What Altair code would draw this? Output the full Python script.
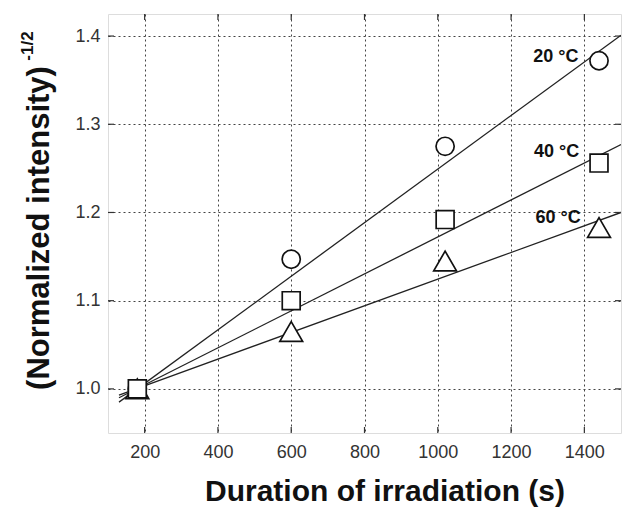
import altair as alt
import pandas as pd

# ---- data ----
durations = [180, 600, 1020, 1440]
temps = ["20 °C", "40 °C", "60 °C"]
vals_20 = [1.000, 1.147, 1.275, 1.372]
vals_40 = [1.000, 1.100, 1.192, 1.256]
vals_60 = [1.000, 1.065, 1.145, 1.183]
shapes = ["circle", "square", "triangle-up"]
sizes = [330, 320, 520]
draw_order = [0, 2, 1]  # circle, triangle, then square on top

fit_x = [130, 1500]
fit_20 = [0.985, 1.401]
fit_40 = [0.990, 1.277]
fit_60 = [0.993, 1.200]

label_x = [1384, 1386, 1390]
label_y = [1.376, 1.268, 1.194]

x_ticks = [200, 400, 600, 800, 1000, 1200, 1400]
y_ticks = [1.0, 1.1, 1.2, 1.3, 1.4]

W, H = 513, 419

series_vals = [vals_20, vals_40, vals_60]
fits = pd.DataFrame({
    "t": fit_x * 3,
    "v": fit_20 + fit_40 + fit_60,
    "temp": [temps[0]] * 2 + [temps[1]] * 2 + [temps[2]] * 2,
})
labels = pd.DataFrame({"t": label_x, "v": label_y, "temp": temps})
xt = pd.DataFrame({"t": x_ticks})
yt = pd.DataFrame({"v": y_ticks})

xs = alt.Scale(domain=[100, 1500], nice=False, zero=False)
ys = alt.Scale(domain=[0.95, 1.425], nice=False, zero=False)

grid_common = dict(
    grid=True, gridColor="#444", gridDash=[2, 3], gridWidth=1,
    domain=False, ticks=False, labelFont="Liberation Sans",
    labelFontSize=18, labelColor="#333", title=None,
)

xax = alt.Axis(values=x_ticks, format="d", labelPadding=10, **grid_common)
yax = alt.Axis(values=y_ticks, format=".1f", labelPadding=8, **grid_common)

lines = alt.Chart(fits).mark_line(color="#222", strokeWidth=1.3, clip=True).encode(
    x=alt.X("t:Q", scale=xs, axis=xax),
    y=alt.Y("v:Q", scale=ys, axis=yax),
    detail="temp:N",
)

marker_layers = []
for i in draw_order:
    df = pd.DataFrame({"t": durations, "v": series_vals[i], "temp": temps[i]})
    marker_layers.append(
        alt.Chart(df).mark_point(
            shape=shapes[i], size=sizes[i], filled=False, fill="white", fillOpacity=1,
            color="#111", strokeWidth=1.7, opacity=1,
        ).encode(x=alt.X("t:Q", scale=xs), y=alt.Y("v:Q", scale=ys))
    )

texts = alt.Chart(labels).mark_text(
    align="right", baseline="middle", font="Liberation Sans", fontWeight="bold",
    fontSize=18, color="#111",
).encode(
    x=alt.X("t:Q", scale=xs),
    y=alt.Y("v:Q", scale=ys),
    text="temp:N",
)

tick_style = dict(color="#333", strokeWidth=1.2)
xt_bottom = alt.Chart(xt).mark_rule(**tick_style).encode(
    x=alt.X("t:Q", scale=xs), y=alt.value(H - 6), y2=alt.value(H))
xt_top = alt.Chart(xt).mark_rule(**tick_style).encode(
    x=alt.X("t:Q", scale=xs), y=alt.value(0), y2=alt.value(6))
yt_left = alt.Chart(yt).mark_rule(**tick_style).encode(
    y=alt.Y("v:Q", scale=ys), x=alt.value(0), x2=alt.value(6))
yt_right = alt.Chart(yt).mark_rule(**tick_style).encode(
    y=alt.Y("v:Q", scale=ys), x=alt.value(W - 6), x2=alt.value(W))

title_style = dict(font="Liberation Sans", fontWeight="bold", color="#111")
xtitle = alt.Chart(pd.DataFrame({"s": ["Duration of irradiation (s)"]})).mark_text(
    fontSize=30, align="center", baseline="middle", **title_style
).encode(x=alt.value(277), y=alt.value(H + 59), text="s:N")

ytitle = alt.Chart(pd.DataFrame({"s": ["(Normalized intensity)"]})).mark_text(
    fontSize=31, align="center", baseline="middle", angle=270, **title_style
).encode(x=alt.value(-68), y=alt.value(214), text="s:N")

ysup = alt.Chart(pd.DataFrame({"s": ["-1/2"]})).mark_text(
    fontSize=17, align="center", baseline="middle", angle=270, **title_style
).encode(x=alt.value(-80), y=alt.value(32), text="s:N")

chart = alt.layer(
    lines, *marker_layers, texts, xt_bottom, xt_top, yt_left, yt_right, xtitle, ytitle, ysup
).properties(
    width=W, height=H,
    autosize=alt.AutoSizeParams(type="none"),
    padding={"left": 108, "top": 14, "right": 2, "bottom": 75},
).configure_view(
    stroke="#222", strokeWidth=1.5
).configure(background="white")

chart.save("out.html", embed_options={"renderer": "svg", "actions": False})
